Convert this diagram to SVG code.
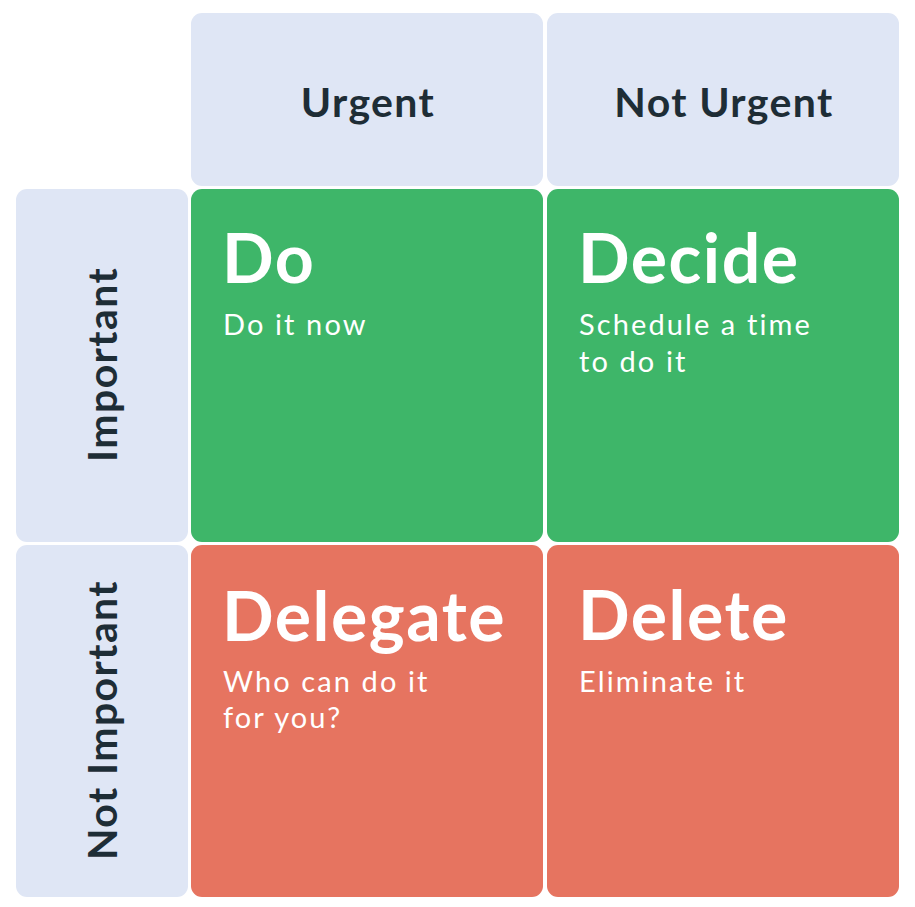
<svg xmlns="http://www.w3.org/2000/svg" width="915" height="907" viewBox="0 0 915 907">
<style>
.hdr{fill:#DFE6F5}
.g{fill:#3EB669}
.r{fill:#E67460}
.ht{font-family:Lato,"Liberation Sans",sans-serif;font-weight:700;font-size:41px;letter-spacing:1.4px;fill:#1E2D36;text-anchor:middle}
.tt{font-family:Lato,"Liberation Sans",sans-serif;font-weight:700;font-size:68px;letter-spacing:1.5px;fill:#FFFFFF}
.st{font-family:Lato,"Liberation Sans",sans-serif;font-weight:400;font-size:29px;letter-spacing:2.1px;fill:#FFFFFF}
</style>
<rect width="915" height="907" fill="#FFFFFF"/>
<g id="urgent">
<rect class="hdr" x="191" y="13" width="352" height="173" rx="11"/>
<text class="ht" x="368" y="117">Urgent</text>
</g>
<g id="not-urgent">
<rect class="hdr" x="547" y="13" width="352" height="173" rx="11"/>
<text class="ht" x="724" y="117">Not Urgent</text>
</g>
<g id="important">
<rect class="hdr" x="16" y="189" width="172" height="353" rx="11"/>
<text class="ht" transform="translate(117,364.5) rotate(-90)">Important</text>
</g>
<g id="not-important">
<rect class="hdr" x="16" y="545" width="172" height="352" rx="11"/>
<text class="ht" transform="translate(117,720) rotate(-90)">Not Important</text>
</g>
<g id="do">
<rect class="g" x="191" y="189" width="352" height="353" rx="11"/>
<text class="tt" x="222" y="283">Do</text>
<text class="st" x="223" y="335">Do it now</text>
</g>
<g id="decide">
<rect class="g" x="547" y="189" width="352" height="353" rx="11"/>
<text class="tt" x="578" y="283">Decide</text>
<text class="st" x="579" y="335">Schedule a time</text>
<text class="st" x="579" y="372">to do it</text>
</g>
<g id="delegate">
<rect class="r" x="191" y="545" width="352" height="352" rx="11"/>
<text class="tt" x="222" y="641">Delegate</text>
<text class="st" x="223" y="692">Who can do it</text>
<text class="st" x="223" y="728">for you?</text>
</g>
<g id="delete">
<rect class="r" x="547" y="545" width="352" height="352" rx="11"/>
<text class="tt" x="578" y="640">Delete</text>
<text class="st" x="579" y="692">Eliminate it</text>
</g>
<g id="connectors"/>
</svg>
